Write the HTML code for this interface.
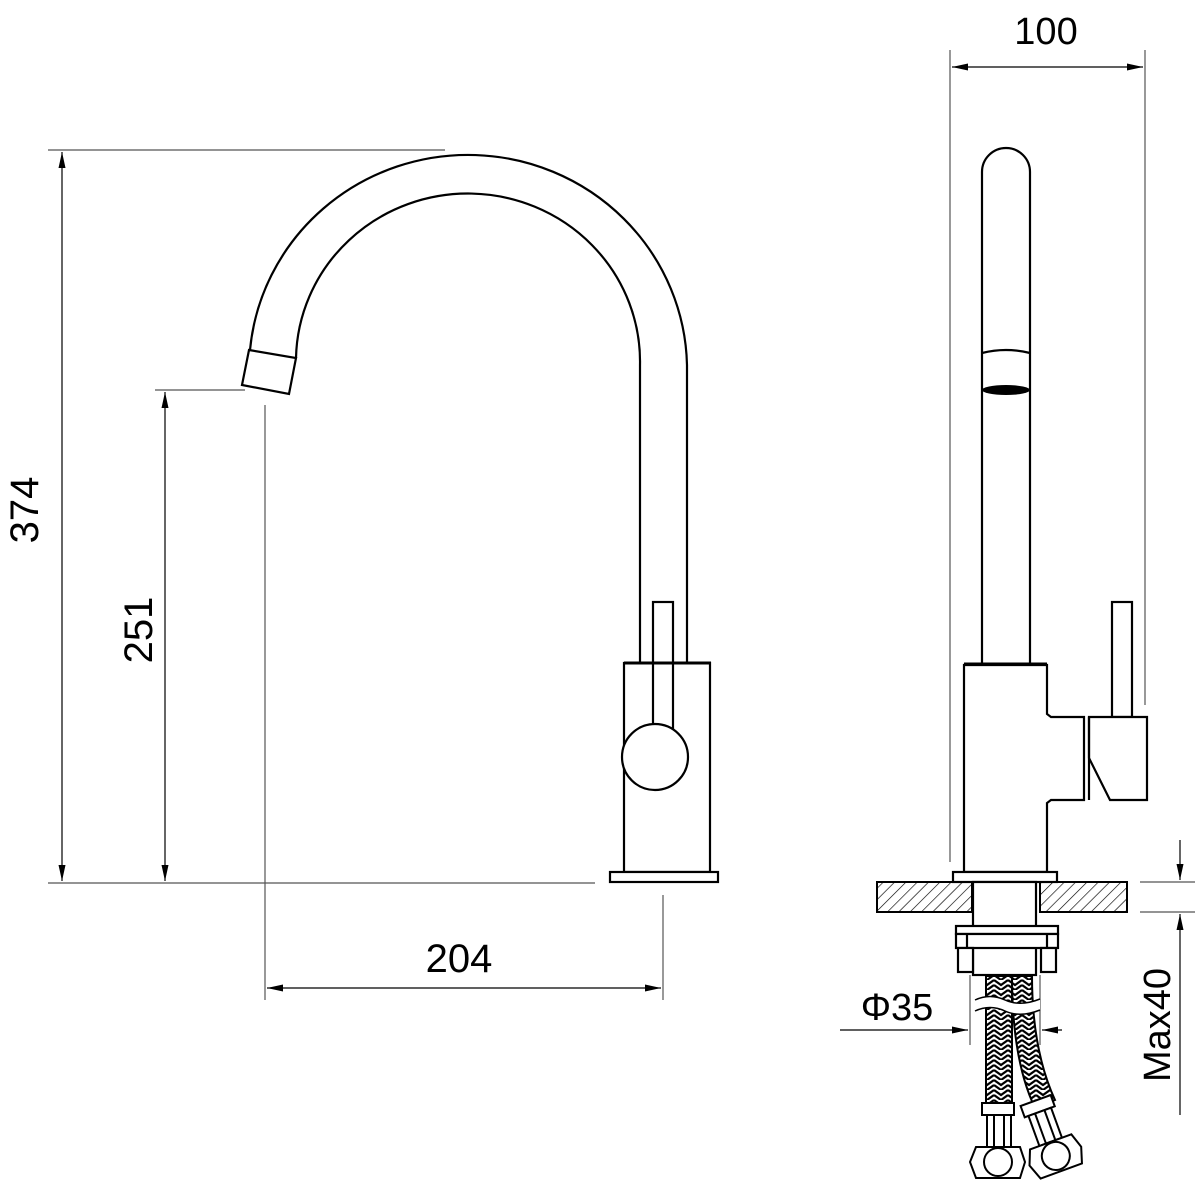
<!DOCTYPE html>
<html><head><style>html,body{margin:0;padding:0;background:#fff}svg{display:block}</style></head><body>
<svg width="1200" height="1200" viewBox="0 0 1200 1200" xmlns="http://www.w3.org/2000/svg" font-family="Liberation Sans, sans-serif">
<defs>
<pattern id="hatch" width="8" height="8" patternUnits="userSpaceOnUse" patternTransform="rotate(45)">
<line x1="0" y1="0" x2="0" y2="8" stroke="#000" stroke-width="1.3"/>
</pattern>
<pattern id="braid" width="14" height="10" patternUnits="userSpaceOnUse">
<rect width="14" height="10" fill="#fff"/>
<path d="M0,0 L7,5 L14,0 M0,5 L7,10 L14,5 M0,10 L7,15 L14,10" stroke="#000" stroke-width="2.2" fill="none"/>
</pattern>
<marker id="ar" viewBox="0 0 16 8" refX="16" refY="4" markerWidth="16" markerHeight="8" orient="auto-start-reverse" markerUnits="userSpaceOnUse">
<path d="M0,0.5 L16,4 L0,7.5 z" fill="#000"/>
</marker>
</defs>

<!-- LEFT VIEW dimensions -->
<g stroke="#555" stroke-width="1.2" fill="none">
<line x1="48" y1="150" x2="445" y2="150"/>
<line x1="48" y1="883" x2="595" y2="883"/>
<line x1="155" y1="390" x2="245" y2="390"/>
<line x1="265" y1="405" x2="265" y2="1000"/>
<line x1="663" y1="895" x2="663" y2="1000"/>
</g>
<g stroke="#000" stroke-width="1.2">
<line x1="62" y1="152" x2="62" y2="881" marker-start="url(#ar)" marker-end="url(#ar)"/>
<line x1="165" y1="392" x2="165" y2="881" marker-start="url(#ar)" marker-end="url(#ar)"/>
<line x1="267" y1="988" x2="661" y2="988" marker-start="url(#ar)" marker-end="url(#ar)"/>
</g>
<text x="0" y="0" font-size="40" text-anchor="middle" transform="translate(38,510) rotate(-90)">374</text>
<text x="0" y="0" font-size="40" text-anchor="middle" transform="translate(152,630) rotate(-90)">251</text>
<text x="459" y="972" font-size="40" text-anchor="middle">204</text>

<!-- LEFT faucet -->
<g stroke="#000" stroke-width="2.2" fill="none">
<path d="M687,663 L687,365 A219,215 0 0 0 250,350"/>
<path d="M640,663 L640,365 A172,168 0 0 0 296,358"/>
<path d="M249,350 L296,358 L289,394 L242,385 Z" fill="#fff"/>
<rect x="624" y="663" width="86" height="209" fill="#fff"/>
<rect x="653" y="602" width="20" height="130" fill="#fff"/>
<circle cx="655" cy="757" r="33" fill="#fff"/>
<rect x="610" y="872" width="108" height="10" fill="#fff"/>
</g>
<line x1="624" y1="663" x2="711" y2="663" stroke="#000" stroke-width="3"/>

<!-- RIGHT VIEW dimensions -->
<g stroke="#555" stroke-width="1.2" fill="none">
<line x1="950" y1="50" x2="950" y2="862"/>
<line x1="1145" y1="50" x2="1145" y2="705"/>
<line x1="1140" y1="882" x2="1195" y2="882"/>
<line x1="1140" y1="912" x2="1195" y2="912"/>
<line x1="970" y1="975" x2="970" y2="1045"/>
<line x1="1040" y1="975" x2="1040" y2="1045"/>
</g>
<g stroke="#000" stroke-width="1.2">
<line x1="952" y1="67" x2="1143" y2="67" marker-start="url(#ar)" marker-end="url(#ar)"/>
<line x1="1180" y1="840" x2="1180" y2="880" marker-end="url(#ar)"/>
<line x1="1180" y1="1115" x2="1180" y2="914" marker-end="url(#ar)"/>
<line x1="840" y1="1030" x2="968" y2="1030" marker-end="url(#ar)"/>
<line x1="1062" y1="1030" x2="1042" y2="1030" marker-end="url(#ar)"/>
</g>
<text x="1046" y="44" font-size="38" text-anchor="middle">100</text>
<text x="897" y="1020" font-size="38" text-anchor="middle">Φ35</text>
<text x="0" y="0" font-size="38" text-anchor="middle" transform="translate(1170,1025) rotate(-90)">Max40</text>

<!-- RIGHT faucet -->
<g stroke="#000" stroke-width="2.2" fill="none">
<path d="M982,663 L982,172 A24,24 0 0 1 1030,172 L1030,663"/>
<path d="M982,353 Q1006,347 1030,353"/>
<path d="M964,872 L964,665 L1047,665 L1047,714 L1051,717 L1084,717 L1084,800 L1051,800 L1047,803 L1047,872 Z" fill="#fff"/>
<rect x="1112" y="602" width="20" height="115" fill="#fff"/>
<path d="M1089,717 L1147,717 L1147,800 L1110,800 L1089,758 Z" fill="#fff"/>
<line x1="1089" y1="717" x2="1089" y2="800"/>
<rect x="953" y="872" width="104" height="10" fill="#fff"/>
</g>
<ellipse cx="1006" cy="390" rx="24" ry="5" fill="#000"/>
<line x1="964" y1="664" x2="1047" y2="664" stroke="#000" stroke-width="3"/>

<!-- countertop -->
<rect x="877" y="882" width="95" height="30" fill="url(#hatch)" stroke="#000" stroke-width="2"/>
<rect x="1040" y="882" width="87" height="30" fill="url(#hatch)" stroke="#000" stroke-width="2"/>
<g stroke="#000" stroke-width="2.2" fill="#fff">
<rect x="973" y="882" width="63" height="93"/>
<rect x="956" y="926" width="102" height="8"/>
<rect x="956" y="934" width="102" height="14"/>
<rect x="958" y="948" width="15" height="24"/>
<rect x="1041" y="948" width="15" height="24"/>
<line x1="967" y1="934" x2="967" y2="948"/>
<line x1="1047" y1="934" x2="1047" y2="948"/>
</g>
<!-- hoses -->
<path d="M986,976 L1012,976 L1012,1105 L986,1105 Z" fill="url(#braid)" stroke="#000" stroke-width="2"/>
<path d="M1012,976 L1032,976 Q1032,1050 1055,1100 L1035,1108 Q1012,1060 1012,976 Z" fill="url(#braid)" stroke="#000" stroke-width="2"/>
<path d="M975,1000 Q990,993 1005,1000 Q1020,1007 1040,999 L1040,1010 Q1020,1018 1005,1011 Q990,1004 975,1011 Z" fill="#fff" stroke="none"/>
<path d="M975,1000 Q990,993 1005,1000 Q1020,1007 1040,999 M975,1011 Q990,1004 1005,1011 Q1020,1018 1040,1010" fill="none" stroke="#000" stroke-width="1.5"/>
<g stroke="#000" stroke-width="2" fill="#fff">
<rect x="982" y="1103" width="32" height="12"/>
<rect x="987" y="1115" width="24" height="32"/>
<line x1="994" y1="1115" x2="994" y2="1147"/><line x1="1004" y1="1115" x2="1004" y2="1147"/>
<path d="M976,1147 L1020,1147 L1025,1162 L1020,1178 L976,1178 L970,1162 Z"/>
<circle cx="998" cy="1162" r="14"/>
<g transform="rotate(-20 1050 1140)">
<rect x="1034" y="1098" width="32" height="12"/>
<rect x="1038" y="1110" width="24" height="32"/>
<line x1="1045" y1="1110" x2="1045" y2="1142"/><line x1="1055" y1="1110" x2="1055" y2="1142"/>
<path d="M1028,1142 L1072,1142 L1077,1157 L1072,1173 L1028,1173 L1022,1157 Z"/>
<circle cx="1050" cy="1157" r="14"/>
</g>
</g>
</svg>
</body></html>
